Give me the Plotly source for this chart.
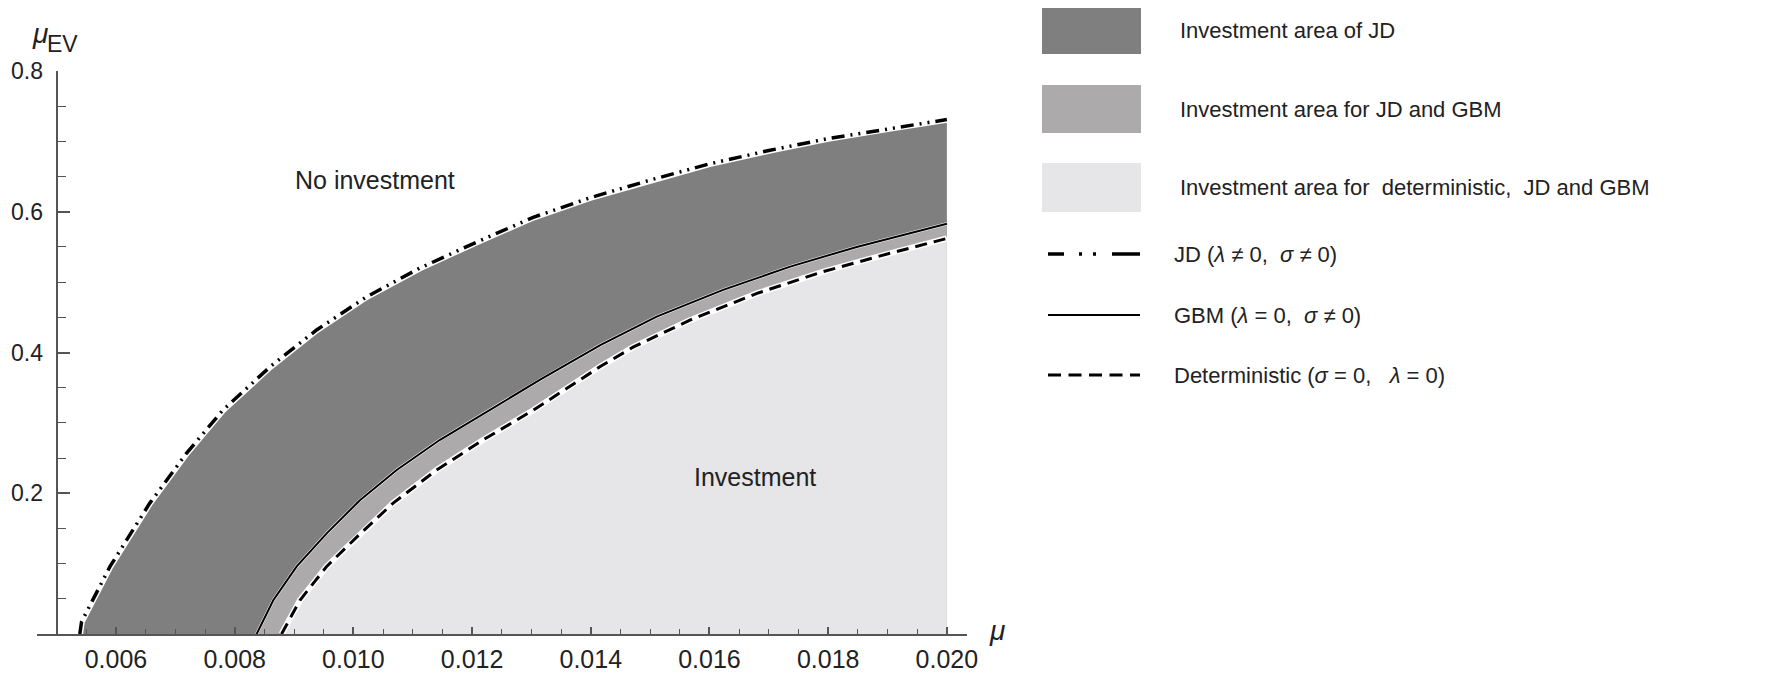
import plotly.graph_objects as go

# ---------------- data ----------------
JD_X = [0.00539, 0.00542, 0.0059, 0.00657, 0.00719, 0.0078, 0.0086, 0.00938, 0.01022,
        0.01112, 0.01208, 0.01303, 0.01399, 0.0150, 0.0160, 0.0170, 0.0180, 0.0190, 0.0200]
JD_Y = [0.0, 0.0175, 0.096, 0.186, 0.257, 0.318, 0.380, 0.432, 0.479,
        0.520, 0.557, 0.592, 0.620, 0.645, 0.668, 0.687, 0.704, 0.718, 0.731]

GBM_X = [0.00837, 0.00865, 0.009045, 0.00955, 0.01011, 0.01073, 0.01146, 0.0123,
         0.01314, 0.01416, 0.01511, 0.01623, 0.01736, 0.01848, 0.0200]
GBM_Y = [0.0, 0.048, 0.096, 0.143, 0.190, 0.233, 0.276, 0.318,
         0.361, 0.4105, 0.451, 0.489, 0.522, 0.550, 0.583]

DET_X = [0.00879, 0.0091, 0.00955, 0.01006, 0.01067, 0.0114, 0.01219, 0.01303,
         0.01416, 0.01472, 0.01567, 0.0168, 0.01792, 0.01904, 0.0200]
DET_Y = [0.0, 0.048, 0.096, 0.138, 0.186, 0.233, 0.276, 0.318,
         0.380, 0.408, 0.446, 0.484, 0.515, 0.541, 0.562]

X_TICKS = [0.006, 0.008, 0.010, 0.012, 0.014, 0.016, 0.018, 0.020]
X_TICK_TEXT = ["0.006", "0.008", "0.010", "0.012", "0.014", "0.016", "0.018", "0.020"]
Y_TICKS = [0.2, 0.4, 0.6, 0.8]
Y_TICK_TEXT = ["0.2", "0.4", "0.6", "0.8"]
Y_MINOR = [0.05, 0.1, 0.15, 0.25, 0.3, 0.35, 0.45, 0.5, 0.55, 0.65, 0.7, 0.75]

AREA_LABELS = ["Investment area of JD", "Investment area for JD and GBM",
               "Investment area for  deterministic,  JD and GBM"]
LINE_LABELS = ["JD (<i>λ</i> ≠ 0,  <i>σ</i> ≠ 0)",
               "GBM (<i>λ</i> = 0,  <i>σ</i> ≠ 0)",
               "Deterministic (<i>σ</i> = 0,   <i>λ</i> = 0)"]

# ---------------- styles ----------------
C_DARK = "#7f7f7f"
C_MID = "#acaaab"
C_LIGHT = "#e6e5e7"
AXIS_C = "#555555"
TXT_C = "#222222"
FONT = "Liberation Sans, Arial, sans-serif"
LEG_SIZE = 22
JD_DASH = "13px,6px,2px,6px,2px,6px"
DET_DASH = "12px,7px"

OFF = 8  # page body margin of the html page
W, H = 1769 - OFF, 678 - OFF
ML, MR, MT, MB = 37 - OFF, 802, 71 - OFF, 44
PW, PH = W - ML - MR, H - MT - MB
X_RANGE = [0.004669, 0.020339]


def px2x(px):
    # page pixel -> paper fraction
    return (px - OFF - ML) / PW


def py2y(py):
    return (H + OFF - MB - py) / PH


fig = go.Figure()

# filled regions (layered)
for xs, ys, col in [(JD_X, JD_Y, C_DARK), (GBM_X, GBM_Y, C_MID), (DET_X, DET_Y, C_LIGHT)]:
    fig.add_trace(go.Scatter(x=xs + [xs[-1], xs[0]], y=ys + [0, 0], mode="lines",
                             fill="toself", fillcolor=col, line=dict(width=0, color=col),
                             hoverinfo="skip", showlegend=False))

# white halos under boundary lines
for xs, ys, w in [(JD_X, JD_Y, 6.5), (GBM_X, GBM_Y, 3), (DET_X, DET_Y, 6)]:
    fig.add_trace(go.Scatter(x=xs, y=ys, mode="lines", line=dict(color="white", width=w),
                             hoverinfo="skip", showlegend=False))

# boundary lines
fig.add_trace(go.Scatter(x=JD_X, y=JD_Y, mode="lines",
                         line=dict(color="black", width=3.5, dash=JD_DASH), showlegend=False))
fig.add_trace(go.Scatter(x=GBM_X, y=GBM_Y, mode="lines",
                         line=dict(color="black", width=2), showlegend=False))
fig.add_trace(go.Scatter(x=DET_X, y=DET_Y, mode="lines",
                         line=dict(color="black", width=3, dash=DET_DASH), showlegend=False))

fig.update_xaxes(range=X_RANGE, showline=True, linecolor=AXIS_C, linewidth=2,
                 showgrid=False, zeroline=False, automargin=False,
                 tickmode="array", tickvals=X_TICKS, ticktext=X_TICK_TEXT,
                 ticks="inside", ticklen=7, tickwidth=1.5, tickcolor=AXIS_C,
                 ticklabelstandoff=2,
                 tickfont=dict(size=25, color=TXT_C, family=FONT),
                 minor=dict(dtick=0.0005, tick0=0.005, ticks="inside", ticklen=5,
                            tickwidth=1.2, tickcolor=AXIS_C))
fig.update_yaxes(range=[0, 0.8], anchor="free", automargin=False,
                 position=(0.005 - X_RANGE[0]) / (X_RANGE[1] - X_RANGE[0]),
                 showline=True, linecolor=AXIS_C, linewidth=2,
                 showgrid=False, zeroline=False,
                 tickmode="array", tickvals=Y_TICKS, ticktext=Y_TICK_TEXT,
                 ticks="inside", ticklen=12, tickwidth=1.5, tickcolor=AXIS_C,
                 ticklabelstandoff=8,
                 tickfont=dict(size=23, color=TXT_C, family=FONT),
                 minor=dict(tickmode="array", tickvals=Y_MINOR, ticks="inside", ticklen=8,
                            tickwidth=1.2, tickcolor=AXIS_C))

annotations = [
    dict(x=0.010364, y=0.645, xref="x", yref="y", text="No investment", showarrow=False,
         xanchor="center", yanchor="middle",
         font=dict(size=25, color=TXT_C, family=FONT)),
    dict(x=0.016767, y=0.223, xref="x", yref="y", text="Investment", showarrow=False,
         xanchor="center", yanchor="middle",
         font=dict(size=25, color=TXT_C, family=FONT)),
    dict(x=px2x(40), y=py2y(34), xref="paper", yref="paper",
         text="<i>μ</i>", showarrow=False, xanchor="center", yanchor="middle",
         font=dict(size=28, color=TXT_C, family=FONT)),
    dict(x=px2x(62), y=py2y(44), xref="paper", yref="paper",
         text="EV", showarrow=False, xanchor="center", yanchor="middle",
         font=dict(size=23, color=TXT_C, family=FONT)),
    dict(x=px2x(997), y=py2y(630), xref="paper", yref="paper",
         text="<i>μ</i>", showarrow=False, xanchor="center", yanchor="middle",
         font=dict(size=28, color=TXT_C, family=FONT)),
]

shapes = []
# legend: area swatches
box_rows = [(7, 54), (85, 133), (163, 212)]
for (y0, y1), col, lab in zip(box_rows, [C_DARK, C_MID, C_LIGHT], AREA_LABELS):
    shapes.append(dict(type="rect", xref="paper", yref="paper",
                       x0=px2x(1042), x1=px2x(1141), y0=py2y(y1), y1=py2y(y0),
                       fillcolor=col, line=dict(width=0)))
    annotations.append(dict(x=px2x(1178), y=py2y((y0 + y1) / 2), xref="paper", yref="paper",
                            xanchor="left", yanchor="middle", text=lab, showarrow=False,
                            font=dict(size=LEG_SIZE, color=TXT_C, family=FONT)))

# legend: line samples
line_rows = [254, 315, 375]
line_styles = [dict(color="black", width=3.5, dash="16px,15px,3px,11px,3px,16px,40px"),
               dict(color="black", width=2.2),
               dict(color="black", width=3, dash="13px,7.5px")]
for yc, st, lab in zip(line_rows, line_styles, LINE_LABELS):
    shapes.append(dict(type="line", xref="paper", yref="paper",
                       x0=px2x(1048), x1=px2x(1140), y0=py2y(yc), y1=py2y(yc), line=st))
    annotations.append(dict(x=px2x(1172), y=py2y(yc), xref="paper", yref="paper",
                            xanchor="left", yanchor="middle", text=lab, showarrow=False,
                            font=dict(size=LEG_SIZE, color=TXT_C, family=FONT)))

fig.update_layout(width=W, height=H, margin=dict(l=ML, r=MR, t=MT, b=MB),
                  plot_bgcolor="white", paper_bgcolor="white",
                  annotations=annotations, shapes=shapes, showlegend=False,
                  font=dict(family=FONT, color=TXT_C))

fig.write_html("out.html")
